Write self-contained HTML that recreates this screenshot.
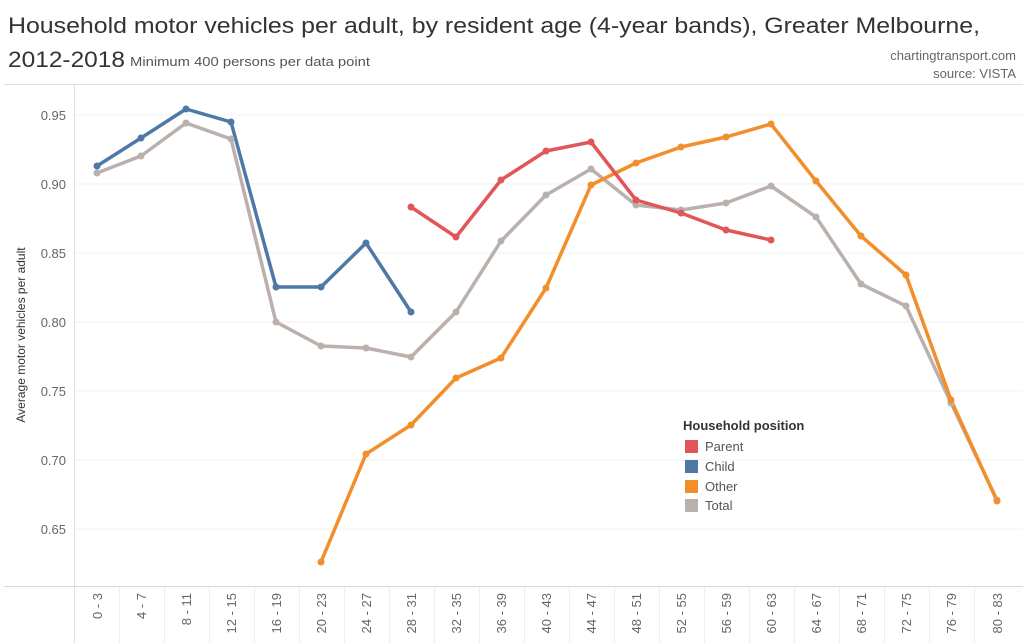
<!DOCTYPE html>
<html><head><meta charset="utf-8"><style>body{margin:0;background:#fff}svg{display:block}</style></head>
<body>
<svg width="1023" height="643" xmlns="http://www.w3.org/2000/svg" font-family="Liberation Sans, sans-serif">
<text x="8" y="33" font-size="22" fill="#333" textLength="972" lengthAdjust="spacingAndGlyphs">Household motor vehicles per adult, by resident age (4-year bands), Greater Melbourne,</text>
<text x="8" y="67" font-size="22" fill="#333" textLength="117" lengthAdjust="spacingAndGlyphs">2012-2018</text>
<text x="130" y="66" font-size="13" fill="#555" textLength="240" lengthAdjust="spacingAndGlyphs">Minimum 400 persons per data point</text>
<text x="1016" y="60" font-size="13" fill="#666" text-anchor="end">chartingtransport.com</text>
<text x="1016" y="78" font-size="13" fill="#666" text-anchor="end">source: VISTA</text>
<line x1="4" y1="84.5" x2="1023" y2="84.5" stroke="#e0e0e0"/>
<line x1="4" y1="586.5" x2="1023" y2="586.5" stroke="#d8d8d8"/>
<line x1="74.5" y1="85" x2="74.5" y2="643" stroke="#e0e0e0"/>
<g stroke="#f0f0f0">
<line x1="75" y1="115" x2="1023" y2="115"/><line x1="75" y1="184" x2="1023" y2="184"/><line x1="75" y1="253" x2="1023" y2="253"/><line x1="75" y1="322" x2="1023" y2="322"/><line x1="75" y1="391" x2="1023" y2="391"/><line x1="75" y1="460" x2="1023" y2="460"/><line x1="75" y1="529" x2="1023" y2="529"/>
</g>
<g font-size="13" fill="#666" text-anchor="end">
<text x="66" y="120">0.95</text><text x="66" y="189">0.90</text><text x="66" y="258">0.85</text><text x="66" y="327">0.80</text><text x="66" y="396">0.75</text><text x="66" y="465">0.70</text><text x="66" y="534">0.65</text>
</g>
<text transform="translate(25,335) rotate(-90)" font-size="12" fill="#333" text-anchor="middle">Average motor vehicles per adult</text>
<g stroke="#eee">
<line x1="119.5" y1="587" x2="119.5" y2="643"/><line x1="164.5" y1="587" x2="164.5" y2="643"/><line x1="209.5" y1="587" x2="209.5" y2="643"/><line x1="254.5" y1="587" x2="254.5" y2="643"/><line x1="299.5" y1="587" x2="299.5" y2="643"/><line x1="344.5" y1="587" x2="344.5" y2="643"/><line x1="389.5" y1="587" x2="389.5" y2="643"/><line x1="434.5" y1="587" x2="434.5" y2="643"/><line x1="479.5" y1="587" x2="479.5" y2="643"/><line x1="524.5" y1="587" x2="524.5" y2="643"/><line x1="569.5" y1="587" x2="569.5" y2="643"/><line x1="614.5" y1="587" x2="614.5" y2="643"/><line x1="659.5" y1="587" x2="659.5" y2="643"/><line x1="704.5" y1="587" x2="704.5" y2="643"/><line x1="749.5" y1="587" x2="749.5" y2="643"/><line x1="794.5" y1="587" x2="794.5" y2="643"/><line x1="839.5" y1="587" x2="839.5" y2="643"/><line x1="884.5" y1="587" x2="884.5" y2="643"/><line x1="929.5" y1="587" x2="929.5" y2="643"/><line x1="974.5" y1="587" x2="974.5" y2="643"/>
</g>
<g font-size="13" fill="#666" text-anchor="end">
<text transform="translate(102,593) rotate(-90)">0 - 3</text>
<text transform="translate(146,593) rotate(-90)">4 - 7</text>
<text transform="translate(191,593) rotate(-90)">8 - 11</text>
<text transform="translate(236,593) rotate(-90)">12 - 15</text>
<text transform="translate(281,593) rotate(-90)">16 - 19</text>
<text transform="translate(326,593) rotate(-90)">20 - 23</text>
<text transform="translate(371,593) rotate(-90)">24 - 27</text>
<text transform="translate(416,593) rotate(-90)">28 - 31</text>
<text transform="translate(461,593) rotate(-90)">32 - 35</text>
<text transform="translate(506,593) rotate(-90)">36 - 39</text>
<text transform="translate(551,593) rotate(-90)">40 - 43</text>
<text transform="translate(596,593) rotate(-90)">44 - 47</text>
<text transform="translate(641,593) rotate(-90)">48 - 51</text>
<text transform="translate(686,593) rotate(-90)">52 - 55</text>
<text transform="translate(731,593) rotate(-90)">56 - 59</text>
<text transform="translate(776,593) rotate(-90)">60 - 63</text>
<text transform="translate(821,593) rotate(-90)">64 - 67</text>
<text transform="translate(866,593) rotate(-90)">68 - 71</text>
<text transform="translate(911,593) rotate(-90)">72 - 75</text>
<text transform="translate(956,593) rotate(-90)">76 - 79</text>
<text transform="translate(1002,593) rotate(-90)">80 - 83</text>
</g>
<g fill="none" stroke-width="3.5" stroke-linejoin="round">
<polyline stroke="#bab0ac" points="97,173 141,156 186,123 231,139 276,322 321,346 366,348 411,357 456,312 501,241 546,195 591,169 636,205 681,210 726,203 771,186 816,217 861,284 906,306 951,403 997,500"/>
<polyline stroke="#f28e2b" points="321,562 366,454 411,425 456,378 501,358 546,288 591,185 636,163 681,147 726,137 771,124 816,181 861,236 906,275 951,400 997,501"/>
<polyline stroke="#e15759" points="411,207 456,237 501,180 546,151 591,142 636,200 681,213 726,230 771,240"/>
<polyline stroke="#4e79a7" points="97,166 141,138 186,109 231,122 276,287 321,287 366,243 411,312"/>
</g>
<g fill="#bab0ac"><circle cx="97" cy="173" r="3.5"/><circle cx="141" cy="156" r="3.5"/><circle cx="186" cy="123" r="3.5"/><circle cx="231" cy="139" r="3.5"/><circle cx="276" cy="322" r="3.5"/><circle cx="321" cy="346" r="3.5"/><circle cx="366" cy="348" r="3.5"/><circle cx="411" cy="357" r="3.5"/><circle cx="456" cy="312" r="3.5"/><circle cx="501" cy="241" r="3.5"/><circle cx="546" cy="195" r="3.5"/><circle cx="591" cy="169" r="3.5"/><circle cx="636" cy="205" r="3.5"/><circle cx="681" cy="210" r="3.5"/><circle cx="726" cy="203" r="3.5"/><circle cx="771" cy="186" r="3.5"/><circle cx="816" cy="217" r="3.5"/><circle cx="861" cy="284" r="3.5"/><circle cx="906" cy="306" r="3.5"/><circle cx="951" cy="403" r="3.5"/><circle cx="997" cy="500" r="3.5"/></g>
<g fill="#f28e2b"><circle cx="321" cy="562" r="3.5"/><circle cx="366" cy="454" r="3.5"/><circle cx="411" cy="425" r="3.5"/><circle cx="456" cy="378" r="3.5"/><circle cx="501" cy="358" r="3.5"/><circle cx="546" cy="288" r="3.5"/><circle cx="591" cy="185" r="3.5"/><circle cx="636" cy="163" r="3.5"/><circle cx="681" cy="147" r="3.5"/><circle cx="726" cy="137" r="3.5"/><circle cx="771" cy="124" r="3.5"/><circle cx="816" cy="181" r="3.5"/><circle cx="861" cy="236" r="3.5"/><circle cx="906" cy="275" r="3.5"/><circle cx="951" cy="400" r="3.5"/><circle cx="997" cy="501" r="3.5"/></g>
<g fill="#e15759"><circle cx="411" cy="207" r="3.5"/><circle cx="456" cy="237" r="3.5"/><circle cx="501" cy="180" r="3.5"/><circle cx="546" cy="151" r="3.5"/><circle cx="591" cy="142" r="3.5"/><circle cx="636" cy="200" r="3.5"/><circle cx="681" cy="213" r="3.5"/><circle cx="726" cy="230" r="3.5"/><circle cx="771" cy="240" r="3.5"/></g>
<g fill="#4e79a7"><circle cx="97" cy="166" r="3.5"/><circle cx="141" cy="138" r="3.5"/><circle cx="186" cy="109" r="3.5"/><circle cx="231" cy="122" r="3.5"/><circle cx="276" cy="287" r="3.5"/><circle cx="321" cy="287" r="3.5"/><circle cx="366" cy="243" r="3.5"/><circle cx="411" cy="312" r="3.5"/></g>
<text x="683" y="430" font-size="13" font-weight="bold" fill="#333">Household position</text>
<rect x="685" y="440" width="13" height="13" fill="#e15759"/><text x="705" y="451" font-size="13" fill="#555">Parent</text>
<rect x="685" y="460" width="13" height="13" fill="#4e79a7"/><text x="705" y="471" font-size="13" fill="#555">Child</text>
<rect x="685" y="480" width="13" height="13" fill="#f28e2b"/><text x="705" y="491" font-size="13" fill="#555">Other</text>
<rect x="685" y="499" width="13" height="13" fill="#bab0ac"/><text x="705" y="510" font-size="13" fill="#555">Total</text>
</svg>
</body></html>
